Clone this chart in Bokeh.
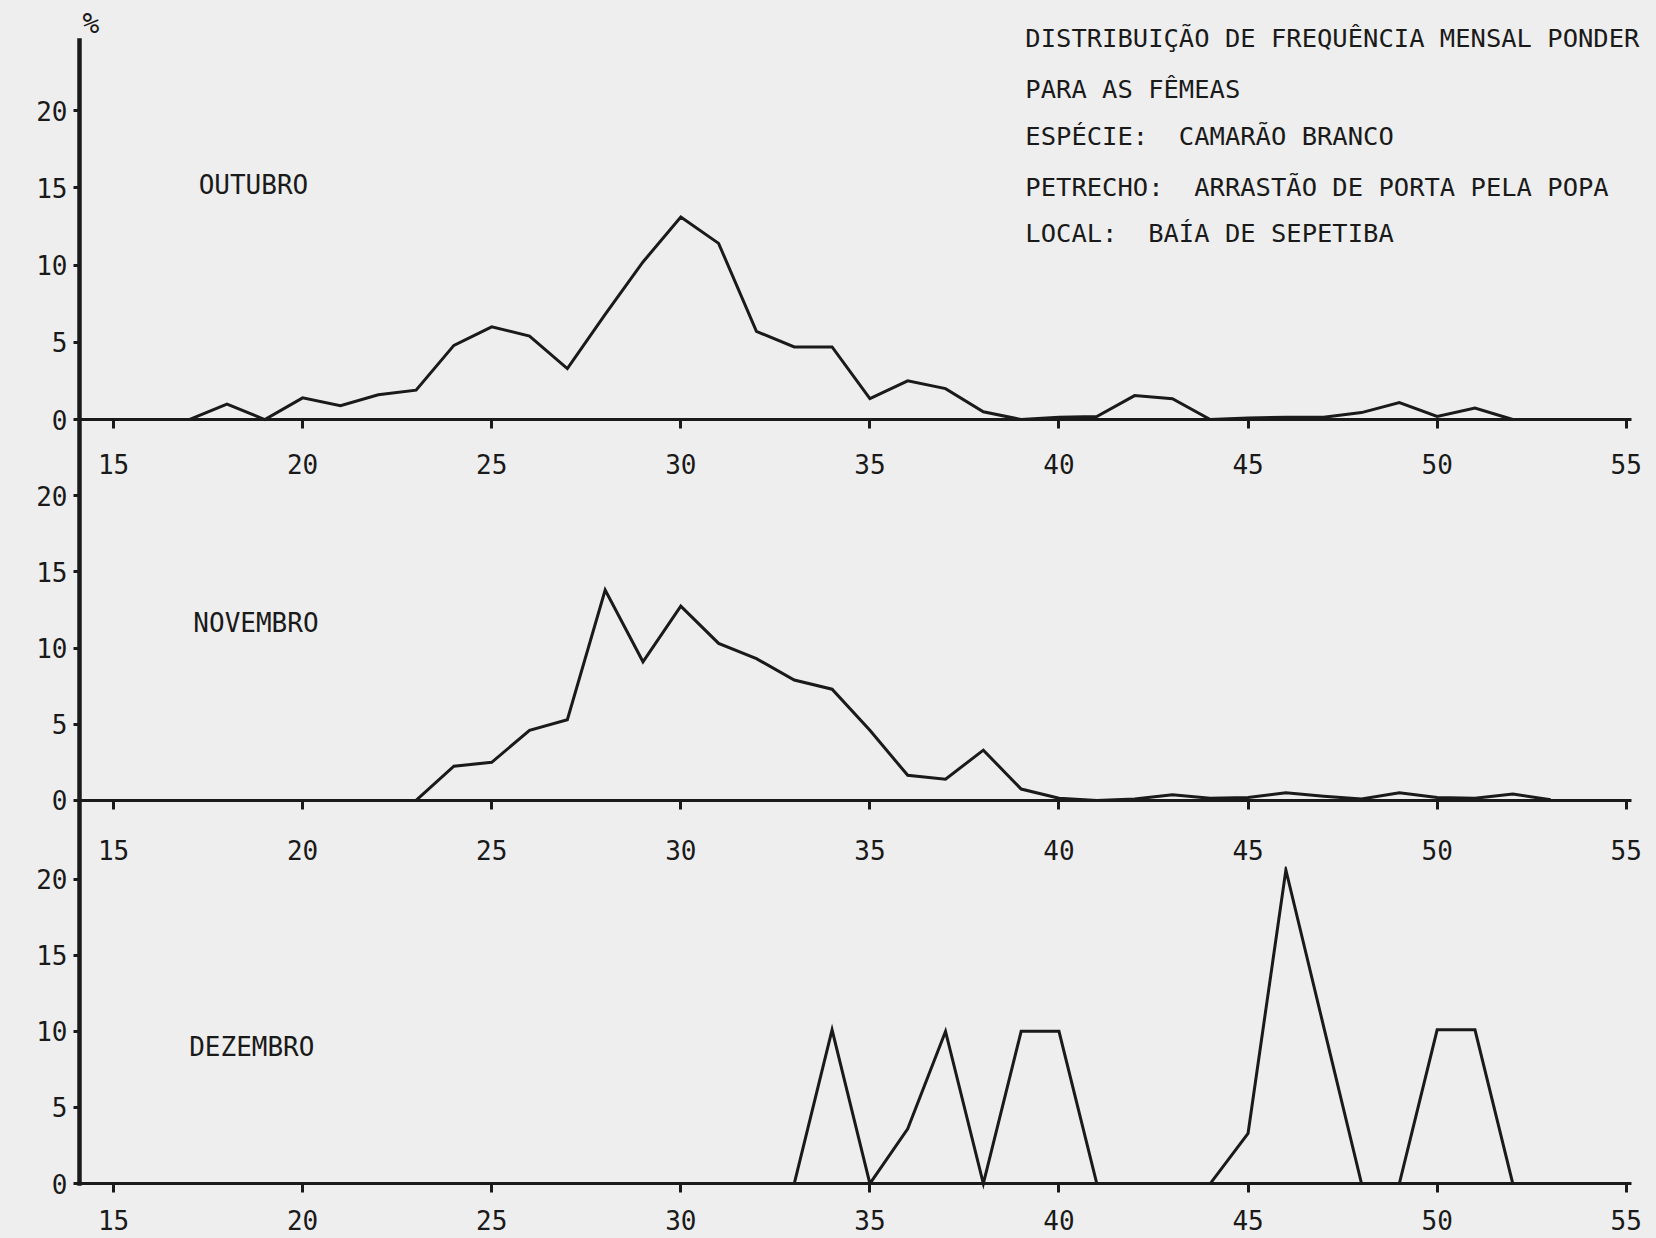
from bokeh.plotting import figure
from bokeh.layouts import column
from bokeh.models import FixedTicker, Label
from bokeh.embed import file_html
from bokeh.resources import INLINE

# ---------------- data ----------------
out_x = [17, 18, 19, 20, 21, 22, 23, 24, 25, 26, 27, 28, 29, 30, 31, 32, 33, 34, 35, 36,
         37, 38, 39, 40, 41, 42, 43, 44, 45, 46, 47, 48, 49, 50, 51, 52]
out_y = [0, 1.0, 0, 1.4, 0.9, 1.6, 1.9, 4.8, 6.0, 5.4, 3.3, 6.8, 10.2, 13.1, 11.4, 5.7, 4.7, 4.7, 1.35, 2.5,
         2.0, 0.5, 0, 0.15, 0.2, 1.55, 1.35, 0, 0.1, 0.15, 0.15, 0.45, 1.1, 0.2, 0.75, 0]

nov_x = [23, 24, 25, 26, 27, 28, 29, 30, 31, 32, 33, 34, 35, 36, 37, 38, 39, 40, 41, 42,
         43, 44, 45, 46, 47, 48, 49, 50, 51, 52, 53]
nov_y = [0, 2.25, 2.5, 4.6, 5.3, 13.8, 9.1, 12.75, 10.3, 9.3, 7.9, 7.3, 4.6, 1.65, 1.4, 3.3, 0.75, 0.15, 0, 0.1,
         0.37, 0.15, 0.2, 0.5, 0.28, 0.1, 0.5, 0.2, 0.15, 0.42, 0.05]

dez_x = [33, 34, 35, 36, 37, 38, 39, 40, 41, 42, 43, 44, 45, 46, 47, 48, 49, 50, 51, 52]
dez_y = [0, 10.1, 0, 3.6, 10.0, 0, 10.0, 10.0, 0, 0, 0, 0, 3.3, 20.6, 10.3, 0, 0, 10.1, 10.1, 0]

months = ["OUTUBRO", "NOVEMBRO", "DEZEMBRO"]
x_ticks = [15, 20, 25, 30, 35, 40, 45, 50, 55]
y_ticks = [0, 5, 10, 15, 20]
NB = "\u00a0"
title_lines = [
    "DISTRIBUIÇÃO DE FREQUÊNCIA MENSAL PONDER",
    "PARA AS FÊMEAS",
    "ESPÉCIE:" + NB + " CAMARÃO BRANCO",
    "PETRECHO:" + NB + " ARRASTÃO DE PORTA PELA POPA",
    "LOCAL:" + NB + " BAÍA DE SEPETIBA",
]

# ---------------- style ----------------
FONT = "DejaVu Sans Mono"
BG = "#eeeeee"
INK = "#1a1a1a"
W = 1656
X_RANGE = (14.1, 55.8)
X_BOUNDS = (14.1, 55.15)


def make_panel(height, y_range, y_bounds, label_standoff, xs, ys, month, month_pos):
    p = figure(width=W, height=height, x_range=X_RANGE, y_range=y_range,
               output_backend="svg", toolbar_location=None,
               min_border_left=79, min_border_right=0,
               min_border_top=0, min_border_bottom=0,
               background_fill_color=BG, border_fill_color=BG,
               outline_line_color=None)
    p.grid.visible = False

    xa = p.xaxis[0]
    xa.fixed_location = 0
    xa.bounds = X_BOUNDS
    xa.ticker = FixedTicker(ticks=x_ticks)
    xa.minor_tick_line_color = None
    xa.major_tick_in = 0
    xa.major_tick_out = 9
    xa.major_tick_line_width = 3
    xa.major_tick_line_color = INK
    xa.axis_line_width = 3
    xa.axis_line_color = INK
    xa.major_label_text_font = FONT
    xa.major_label_text_font_size = "26px"
    xa.major_label_text_color = INK
    xa.major_label_standoff = label_standoff

    ya = p.yaxis[0]
    ya.ticker = FixedTicker(ticks=y_ticks)
    ya.bounds = y_bounds
    ya.minor_tick_line_color = None
    ya.major_tick_in = 0
    ya.major_tick_out = 6
    ya.major_tick_line_width = 3
    ya.major_tick_line_color = INK
    ya.axis_line_width = 4.5
    ya.axis_line_color = INK
    ya.axis_line_cap = "square"
    ya.major_label_text_font = FONT
    ya.major_label_text_font_size = "26px"
    ya.major_label_text_color = INK
    ya.major_label_standoff = 6

    p.line(xs, ys, line_width=3, line_color=INK, line_join="miter")

    p.add_layout(Label(x=month_pos[0], y=month_pos[1], text=month,
                       text_font=FONT, text_font_size="26px", text_color=INK,
                       text_baseline="middle", text_align="left"))
    return p


top = make_panel(483, (-4.14, 27.12), (-4.14, 24.53), 25, out_x, out_y, months[0], (17.25, 15.2))
mid = make_panel(383, (-4.33, 20.79), "auto", 31, nov_x, nov_y, months[1], (17.11, 11.67))
bot = make_panel(372, (-3.61, 20.83), (0, 20.83), 17, dez_x, dez_y, months[2], (17.0, 8.94))

# "%" marker above the y axis
top.add_layout(Label(x=14.4, y=25.6, text="%", text_font=FONT, text_font_size="28px",
                     text_font_style="italic", text_color=INK,
                     text_baseline="middle", text_align="center"))

# title block
title_y = [24.72, 21.36, 18.38, 15.02, 12.10]
for line, ty in zip(title_lines, title_y):
    top.add_layout(Label(x=39.11, y=ty, text=line, text_font=FONT, text_font_size="25.5px",
                         text_color=INK, text_baseline="middle", text_align="left"))

layout = column(top, mid, bot, spacing=0, background=BG)
open("out.html", "w").write(file_html(layout, INLINE))
